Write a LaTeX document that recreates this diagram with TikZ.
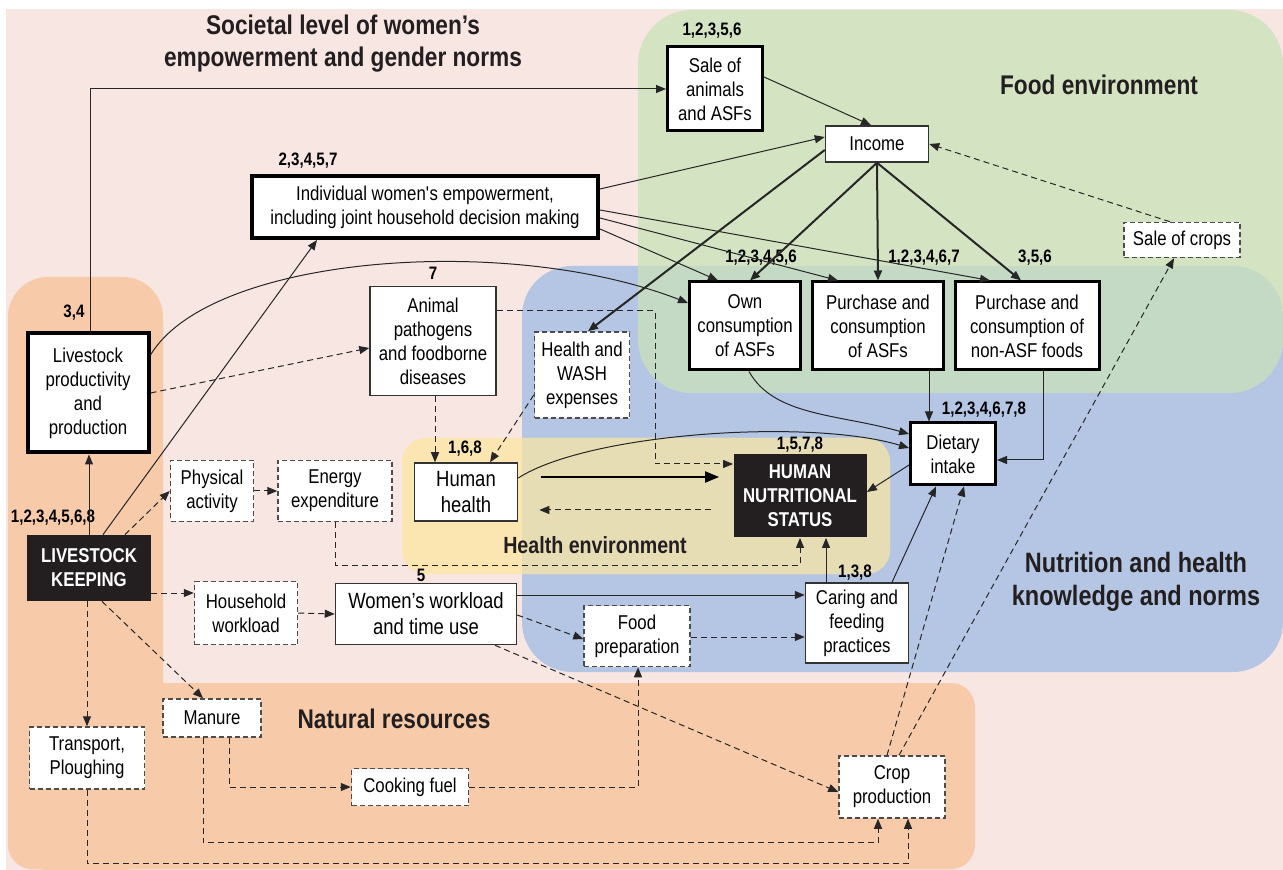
\documentclass[tikz,border=0pt]{standalone}
\usepackage{fontspec}
\setmainfont{Liberation Sans}[FakeStretch=0.84]
\usepackage{tikz}
\usetikzlibrary{arrows.meta}
\usetikzlibrary{calc}
\definecolor{societal}{HTML}{F8E6E3}
\definecolor{natural}{HTML}{F7CAA9}
\definecolor{nutrition}{HTML}{B4C6E3}
\definecolor{foodenv}{HTML}{D4E3C2}
\definecolor{foodnutrition}{HTML}{C4DAC5}
\definecolor{healthenv}{HTML}{FBE5B1}
\definecolor{healthnutrition}{HTML}{E7DDB5}
\definecolor{boxblack}{HTML}{231F20}
\definecolor{edge}{HTML}{333333}
\tikzset{
	>={Triangle[length=5pt,width=4pt]},
	box/.style={
		rectangle,
		draw=edge, line width=0.75pt,
		fill=white,
		align=center,
		inner sep=1pt,
		font=\fontsize{10}{12}\selectfont},
	thickbox/.style={box, draw=black, line width=1.5pt},
	heavybox/.style={box, draw=black, line width=2pt},
	dashbox/.style={box, draw=black!70, dash pattern=on 2.5pt off 1.5pt},
	blackbox/.style={
		rectangle,
		fill=boxblack,
		text=white,
		align=center,
		inner sep=1pt,
		font=\fontsize{10}{12}\selectfont\bfseries},
	wh/.style 2 args={minimum width=#1, minimum height=#2},
	nums/.style={font=\fontsize{9}{10}\selectfont\bfseries, inner sep=0pt},
	regiontitle/.style={align=center, text=boxblack, font=\fontsize{13.5}{16}\selectfont\bfseries},
	link/.style={draw=black!85, line width=0.5pt, ->},
	dlink/.style={link, dash pattern=on 3pt off 2pt},
	strong/.style={link, line width=1pt},
	bigarrow/.style={draw=black, line width=1pt, -{Triangle[length=7pt,width=5.5pt]}},
}

\begin{document}
\begin{tikzpicture}
	[x=0.5pt, y=-0.5pt]
	\useasboundingbox (0,0) rectangle (1283,870);
	% regions
	\fill[societal] (6,9) rectangle (1283,870);
	\fill[natural, rounded corners=20pt] (8,277) rectangle (163,870);
	\fill[natural, rounded corners=12pt] (8,683) rectangle (975,869);
	\fill[nutrition, rounded corners=25pt] (522,266) rectangle (1283,672);
	\fill[foodenv, rounded corners=27pt] (638,10) rectangle (1283,393);
	\fill[healthenv, rounded corners=12pt] (402,438) rectangle (890,574);
	\begin{scope}
		\clip[rounded corners=25pt] (522,266) rectangle (1283,672);
		\fill[foodnutrition, rounded corners=27pt] (638,10) rectangle (1283,393);
		\fill[healthnutrition, rounded corners=12pt] (402,438) rectangle (890,574);
	\end{scope}

	\node[regiontitle] (societaltitle) at (343,44) {Societal level of women’s\\empowerment and gender norms};
	\node[regiontitle] (foodtitle) at (1099,85) {Food environment};
	\node[regiontitle, font=\fontsize{14}{16.5}\selectfont\bfseries] (nutritiontitle) at (1136,582) {Nutrition and health\\knowledge and norms};
	\node[regiontitle, font=\fontsize{11.7}{14}\selectfont\bfseries] (healthtitle) at (595,545) {Health environment};
	\node[regiontitle] (naturaltitle) at (394,719) {Natural resources};

	% boxes
	\node[thickbox, wh={47.5pt}{42pt}] (sale) at (715,89) {Sale of\\animals\\and ASFs};
	\node[box, wh={51.5pt}{18pt}] (income) at (877,144) {Income};
	\node[heavybox, wh={173pt}{31pt}] (empw) at (425,207) {Individual women\textquotesingle s empowerment,\\including joint household decision making};
	\node[dashbox, wh={58pt}{17.5pt}] (salecrops) at (1182,240) {Sale of crops};
	\node[thickbox, wh={55.5pt}{44pt}] (own) at (745,326) {Own\\consumption\\of ASFs};
	\node[thickbox, wh={65.5pt}{44pt}] (purasf) at (878,326) {Purchase and\\consumption\\of ASFs};
	\node[thickbox, wh={72pt}{44pt}] (purnon) at (1027,326) {Purchase and\\consumption of\\non-ASF foods};
	\node[heavybox, wh={60.5pt}{59.5pt}] (lprod) at (88,393) {Livestock\\productivity\\and\\production};
	\node[box, wh={63pt}{54.5pt}] (patho) at (433,341) {Animal\\pathogens\\and foodborne\\diseases};
	\node[dashbox, wh={47.5pt}{43pt}] (wash) at (582,375) {Health and\\WASH\\expenses};
	\node[thickbox, wh={42.5pt}{31pt}] (diet) at (953,454) {Dietary\\intake};
	\node[box, wh={51.5pt}{29pt}, font=\fontsize{11}{13}\selectfont] (hhealth) at (466,492) {Human\\health};
	\node[blackbox, wh={66.5pt}{41.5pt}] (hns) at (800,496) {HUMAN\\NUTRITIONAL\\STATUS};
	\node[dashbox, wh={41.5pt}{30.5pt}] (phys) at (212,491) {Physical\\activity};
	\node[dashbox, wh={57pt}{30.5pt}] (energy) at (335,491) {Energy\\expenditure};
	\node[blackbox, wh={62pt}{33pt}] (lk) at (89,568) {LIVESTOCK\\KEEPING};
	\node[dashbox, wh={51.5pt}{31.5pt}] (hhw) at (246,613) {Household\\workload};
	\node[box, wh={90.5pt}{30.5pt}, font=\fontsize{11}{13}\selectfont] (wwork) at (426,614) {Women’s workload\\and time use};
	\node[dashbox, wh={53pt}{30.5pt}] (food) at (637,636) {Food\\preparation};
	\node[box, wh={51.5pt}{40pt}] (caring) at (857,623) {Caring and\\feeding\\practices};
	\node[dashbox, wh={49pt}{19pt}] (manure) at (212,718) {Manure};
	\node[dashbox, wh={57.5pt}{31pt}] (transport) at (87,758) {Transport,\\Ploughing};
	\node[dashbox, wh={58.5pt}{18.5pt}] (cooking) at (410,787) {Cooking fuel};
	\node[dashbox, wh={53pt}{31pt}] (crop) at (892,787) {Crop\\production};

	% study numbers
	\node[nums] (nsale) at (712,31) {1,2,3,5,6};
	\node[nums] (nempw) at (308,161) {2,3,4,5,7};
	\node[nums] (nown) at (761,258) {1,2,3,4,5,6};
	\node[nums] (npurasf) at (924,258) {1,2,3,4,6,7};
	\node[nums] (npurnon) at (1035,258) {3,5,6};
	\node[nums] (nlprod) at (74,313) {3,4};
	\node[nums] (npatho) at (433,273) {7};
	\node[nums] (ndiet) at (984,410) {1,2,3,4,6,7,8};
	\node[nums] (nhhealth) at (465,449) {1,6,8};
	\node[nums] (nhns) at (800,445) {1,5,7,8};
	\node[nums] (nlk) at (53,518) {1,2,3,4,5,6,8};
	\node[nums] (nwwork) at (421,575) {5};
	\node[nums] (ncaring) at (855,573) {1,3,8};

	% connectors
	\draw[link] (lk.north) -- (lk.north |- lprod.south);
	\draw[link] ([xshift=1pt]lprod.north) |- (sale.west);
	\draw[link] ([yshift=6pt]sale.east) -- ([xshift=-3pt]income.north);
	\draw[link] ([yshift=9pt]empw.east) -- ([yshift=3.5pt]income.west);
	\draw[link] ([yshift=-11pt]empw.east) -- ([xshift=-13.5pt]own.north);
	\draw[link] ([yshift=-5.5pt]empw.east) -- ([xshift=-20pt]purasf.north);
	\draw[link] ([yshift=-1.5pt]empw.east) -- ([xshift=-18.5pt]purnon.north);
	\draw[strong] (income.south) -- ([xshift=2.5pt]own.north);
	\draw[strong] (income.south) -- (purasf.north);
	\draw[strong] (income.south) -- ([xshift=-3pt]purnon.north);
	\draw[strong] ([yshift=-3pt]income.west) -- ([xshift=3pt]wash.north);
	\draw[dlink] ([xshift=-6pt]salecrops.north) -- (income.east);
	\draw[dlink] ([xshift=3.5pt]crop.north) -- ([xshift=-4pt]salecrops.south);
	\draw[dlink] ([xshift=-2.5pt]crop.north) -- ([xshift=5.5pt]diet.south);
	\draw[link] ([xshift=17.5pt]caring.north) -- ([xshift=-8.5pt]diet.south);
	\draw[link] ([xshift=2pt]own.south) .. controls +(25,45) and +(-70,-20) .. ([yshift=10pt]diet.west);
	\draw[link] ([xshift=25.5pt]purasf.south) -- ([xshift=-12pt]diet.north);
	\draw[link] ([xshift=8pt]purnon.south) |- ([yshift=-3pt]diet.east);
	\draw[link] ([yshift=7pt]hhealth.east) .. controls +(70,-45) and +(-100,-30) .. ([yshift=3pt]diet.west);
	\draw[link] ([yshift=-5.5pt]diet.west) -- ([yshift=2pt]hns.east);
	\draw[bigarrow] ([xshift=11.5pt,yshift=7.5pt]hhealth.east) -- ([xshift=-7pt,yshift=9.5pt]hns.west);
	\draw[dlink] ([xshift=-11pt,yshift=-7pt]hns.west) -- ([xshift=10.5pt,yshift=-9pt]hhealth.east);
	\draw[dlink] ([xshift=1pt]patho.south) -- ([xshift=-15.5pt]hhealth.north);
	\draw[dlink] ([yshift=15pt]patho.east) -| ([xshift=-39pt,yshift=16pt]hns.west) -- ([yshift=16pt]hns.west);
	\draw[dlink] ([yshift=-10pt]wash.west) -- ([xshift=12pt]hhealth.north);
	\draw[dlink] (lprod.east) -- ([yshift=-3.5pt]patho.west);
	\draw[link] ([yshift=19pt]lprod.east) .. controls +(60,-100) and +(-180,-70) .. ([yshift=11.5pt]own.west);
	\draw[link] ([xshift=7pt]lk.north) -- ([xshift=-54pt]empw.south);
	\draw[dlink] ([xshift=18pt]lk.north) -- (phys.west);
	\draw[dlink] (phys.east) -- (energy.west);
	\draw[dlink] (energy.south) -- ++(0,43) -| (hns.south);
	\draw[dlink] ([yshift=-12.5pt]lk.east) -- ([yshift=10pt]hhw.west);
	\draw[dlink] (hhw.east) -- (wwork.west);
	\draw[link] ([yshift=9.5pt]wwork.east) -- ([yshift=14pt]caring.west);
	\draw[dlink] ([yshift=-0.5pt]wwork.east) -- ([yshift=-1.5pt]food.west);
	\draw[dlink] ([xshift=34.5pt]wwork.south) -- ([yshift=-2.5pt]crop.west);
	\draw[dlink] ([yshift=-0.5pt]food.east) -- ([yshift=-7pt]caring.west);
	\draw[link] ([xshift=-15.5pt]caring.north) -- ([xshift=13pt]hns.south);
	\draw[dlink] ([xshift=-1pt]lk.south) -- (transport.north);
	\draw[dlink] ([xshift=6.5pt]lk.south) -- ([xshift=-4.5pt]manure.north);
	\draw[dlink] ([xshift=8.5pt]manure.south) |- (cooking.west);
	\draw[dlink] ([xshift=-4.5pt]manure.south) -- ++(0,105) -| ([xshift=-7pt]crop.south);
	\draw[dlink] (transport.south) -- ++(0,74) -| ([xshift=8pt]crop.south);
	\draw[dlink] (cooking.east) -| ([xshift=0.5pt]food.south);
\end{tikzpicture}
\end{document}
